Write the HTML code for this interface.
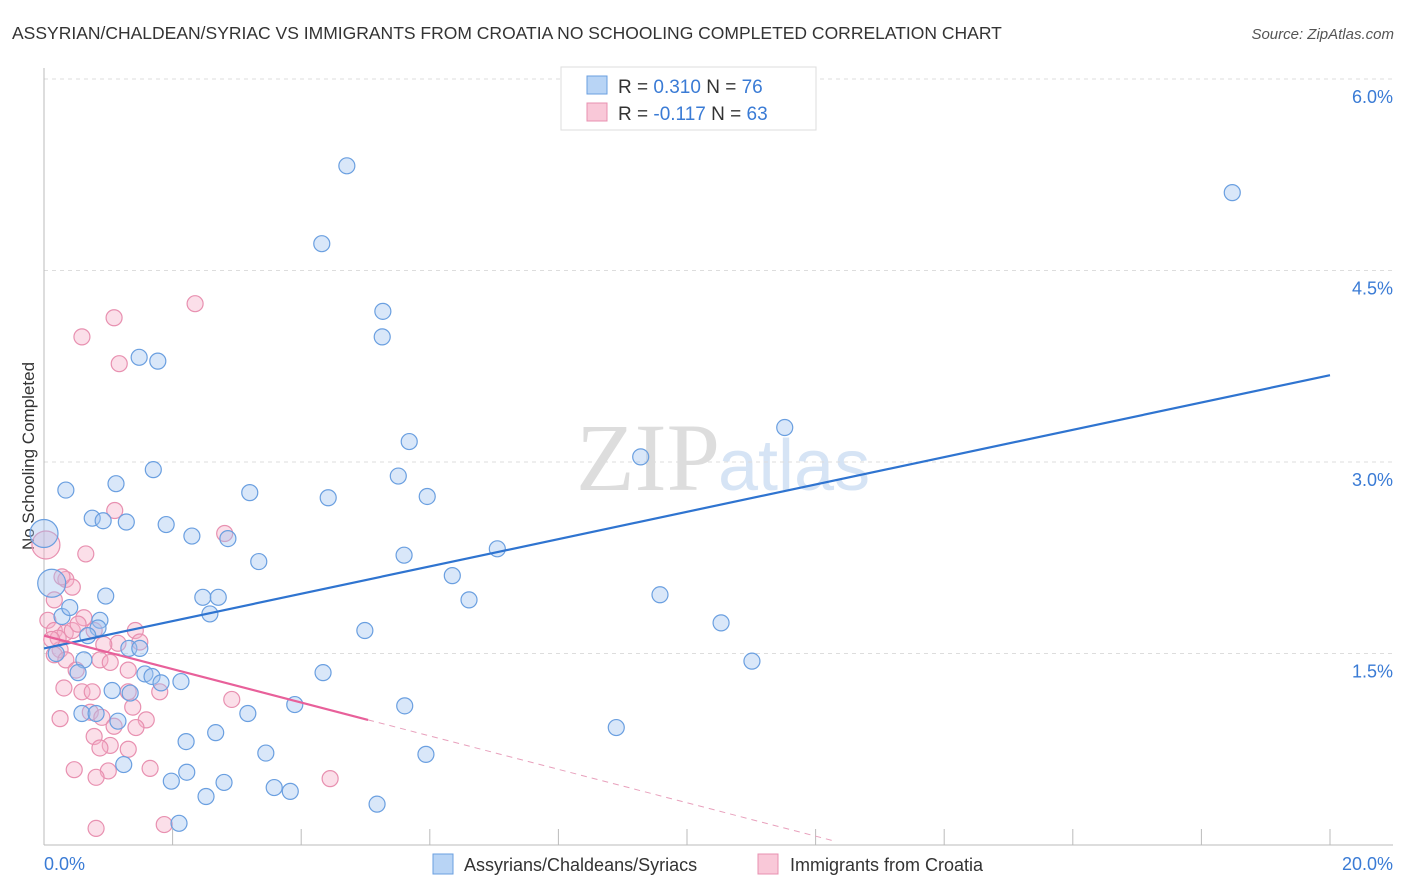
<!DOCTYPE html>
<html><head><meta charset="utf-8"><style>
body{margin:0;background:#fff;font-family:"Liberation Sans",sans-serif}
svg{display:block}
</style></head><body>
<svg width="1406" height="892" id="c">
<text x="12" y="39" font-size="17.5" fill="#333">ASSYRIAN/CHALDEAN/SYRIAC VS IMMIGRANTS FROM CROATIA NO SCHOOLING COMPLETED CORRELATION CHART</text>
<text x="1394" y="39" font-size="15" fill="#555" font-style="italic" text-anchor="end">Source: ZipAtlas.com</text>
<text x="720" y="490" font-size="96" fill="#ddd" text-anchor="end" font-family="Liberation Serif">ZIP</text>
<text x="718" y="490" font-size="72" fill="#d6e4f5">atlas</text>
<text transform="translate(34,456) rotate(-90)" font-size="17" fill="#333" text-anchor="middle">No Schooling Completed</text>
<g id="grid"></g><g id="pts"></g><g id="trend"></g>
<g>
<rect x="561" y="67" width="255" height="63" fill="#fff" stroke="#ddd"/>
<rect x="587" y="76" width="20" height="18" fill="#b8d4f5" stroke="#6a9fe0"/>
<rect x="587" y="103" width="20" height="18" fill="#f9c8d8" stroke="#e890b0"/>
<text x="618" y="93" font-size="19" fill="#333">R = <tspan fill="#3a7bd5"> 0.310</tspan>   N = <tspan fill="#3a7bd5">76</tspan></text>
<text x="618" y="120" font-size="19" fill="#333">R = <tspan fill="#3a7bd5">-0.117</tspan>   N = <tspan fill="#3a7bd5">63</tspan></text>
</g>
<g>
<rect x="433" y="854" width="20" height="20" fill="#b8d4f5" stroke="#6a9fe0"/>
<text x="464" y="871" font-size="18" fill="#333">Assyrians/Chaldeans/Syriacs</text>
<rect x="758" y="854" width="20" height="20" fill="#f9c8d8" stroke="#e890b0"/>
<text x="790" y="871" font-size="18" fill="#333">Immigrants from Croatia</text>
</g>
</svg>
<script>
const blueX=[4.71,18.48,4.32,5.27,5.26,1.48,1.77,11.52,5.68,9.28,1.70,0.34,3.20,1.12,4.42,5.51,5.96,0.75,0.92,1.28,1.90,2.30,2.86,0,3.34,5.60,7.05,6.35,0.12,0.96,2.47,2.71,6.61,9.58,2.58,0.28,0.40,0.87,0.84,0.68,4.99,10.53,1.32,1.49,0.19,0.62,11.01,0.53,4.34,1.57,1.68,1.82,2.13,1.06,1.34,3.90,5.61,0.59,0.81,3.17,1.15,8.90,2.67,2.21,3.45,1.24,5.94,2.22,1.98,2.80,3.58,3.83,2.52,5.18,2.10];
const blueY=[5.32,5.11,4.71,4.18,3.98,3.82,3.79,3.27,3.16,3.04,2.94,2.78,2.76,2.83,2.72,2.89,2.73,2.56,2.54,2.53,2.51,2.42,2.40,2.44,2.22,2.27,2.32,2.11,2.05,1.95,1.94,1.94,1.92,1.96,1.81,1.79,1.86,1.76,1.70,1.64,1.68,1.74,1.54,1.54,1.50,1.45,1.44,1.35,1.35,1.34,1.32,1.27,1.28,1.21,1.19,1.10,1.09,1.03,1.03,1.03,0.97,0.92,0.88,0.81,0.72,0.63,0.71,0.57,0.50,0.49,0.45,0.42,0.38,0.32,0.17];
const blueBig=[23,28];
const pinkX=[2.35,1.09,0.59,1.17,1.10,2.81,0.03,0.65,0.34,0.44,0.28,0.16,0.62,0.06,0.16,0.33,0.44,0.78,1.42,0.22,1.15,0.25,0.16,0.87,1.03,0.34,0.50,1.31,0.31,0.59,0.75,1.31,1.80,2.92,1.38,0.72,0.90,0.25,1.59,1.43,1.09,0.78,1.03,0.87,1.31,0.47,1.00,1.65,0.81,4.45,0.81,1.87,0.93,1.49,0.53,0.12];
const pinkY=[4.24,4.13,3.98,3.77,2.62,2.44,2.35,2.28,2.08,2.02,2.10,1.92,1.78,1.76,1.68,1.66,1.68,1.68,1.68,1.62,1.58,1.53,1.49,1.45,1.43,1.45,1.37,1.37,1.23,1.20,1.20,1.20,1.20,1.14,1.08,1.04,1.00,0.99,0.98,0.92,0.93,0.85,0.78,0.76,0.75,0.59,0.58,0.60,0.53,0.52,0.13,0.16,1.57,1.59,1.73,1.61];
const pinkBig=[6];
const blueTrend=[[0,1.54],[20,3.68]];
const pinkTrendSolid=[[0,1.64],[5.04,0.98]];
const pinkTrendDash=[[5.04,0.98],[12.3,0.03]];
const yTicks=[1.5,3.0,4.5,6.0];
const yTickLabels=["1.5%","3.0%","4.5%","6.0%"];
const xTicks=[0,2,4,6,8,10,12,14,16,18,20];
const NS='http://www.w3.org/2000/svg';
const X=v=>44+v/20*1286, Y=v=>845-v/1.5*191.5;
function mk(tag,attrs,parent){const e=document.createElementNS(NS,tag);for(const k in attrs)e.setAttribute(k,attrs[k]);document.getElementById(parent).appendChild(e);return e;}
yTicks.forEach((t,i)=>{
 const g=mk('line',{x1:44,x2:1393,y1:Y(t),y2:Y(t),stroke:'#ddd','stroke-dasharray':'4,4'},'grid');
 
 
 const l=mk('text',{x:1393,y:Y(t)+24,'font-size':18,fill:'#3a7bd5','text-anchor':'end'},'grid');l.textContent=yTickLabels[i];
 
 
});
const ax=mk('line',{x1:44,x2:44,y1:68,y2:845,stroke:'#bbb'},'grid');


const bx=mk('line',{x1:44,x2:1393,y1:845,y2:845,stroke:'#bbb'},'grid');


xTicks.forEach(t=>{const k=mk('line',{x1:X(t),x2:X(t),y1:829,y2:845,stroke:'#bbb'},'grid');
 
 });
const x0=mk('text',{x:44,y:870,'font-size':18,fill:'#3a7bd5'},'grid');x0.textContent='0.0%';


const x1=mk('text',{x:1393,y:870,'font-size':18,fill:'#3a7bd5','text-anchor':'end'},'grid');x1.textContent='20.0%';


pinkX.forEach((v,i)=>{const c=mk('circle',{cx:X(v),cy:Y(pinkY[i]),r:pinkBig.includes(i)?14:8,fill:'rgba(246,176,200,0.4)',stroke:'#e890b0','stroke-width':1.2},'pts');
 
 });
blueX.forEach((v,i)=>{const c=mk('circle',{cx:X(v),cy:Y(blueY[i]),r:blueBig.includes(i)?14:8,fill:'rgba(160,196,240,0.4)',stroke:'#6a9fe0','stroke-width':1.2},'pts');
 
 });
function ln(p,st,dash,name){const l=mk('line',{x1:X(p[0][0]),y1:Y(p[0][1]),x2:X(p[1][0]),y2:Y(p[1][1]),stroke:st,'stroke-width':dash?1:2.2,'stroke-dasharray':dash?'6,5':'none'},'trend');
 
 }
ln(blueTrend,'#2f74d0',false,'assyrian-trend-line');
ln(pinkTrendSolid,'#e8609a',false,'croatia-trend-line');
ln(pinkTrendDash,'#e8a0bc',true,'croatia-trend-extension');
</script>
</body></html>
